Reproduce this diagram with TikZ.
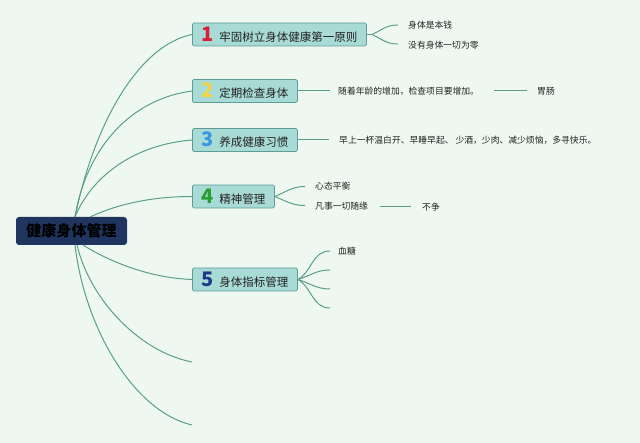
\documentclass[tikz,border=0pt]{standalone}
\usepackage{fontspec}
\setmainfont{Noto Sans CJK SC}
\definecolor{bg}{HTML}{EEF8F1}
\definecolor{ln}{HTML}{5B9E8A}
\definecolor{boxfill}{HTML}{A8DBD6}
\definecolor{boxdraw}{HTML}{5E9C96}
\definecolor{rootfill}{HTML}{1F3560}
\definecolor{numA}{HTML}{D8203A}
\definecolor{numB}{HTML}{F2D44A}
\definecolor{numC}{HTML}{3A98E0}
\definecolor{numD}{HTML}{2A9E2E}
\definecolor{numE}{HTML}{1A3A8A}
\definecolor{txt}{HTML}{222222}
\tikzset{
  conn/.style={draw=ln, line width=1pt},
  branchbox/.style={draw=boxdraw, fill=boxfill, rounded corners=1.5pt, line width=0.8pt,
    anchor=west, minimum height=23pt, inner xsep=9pt, inner ysep=0pt,
    font=\fontsize{11.5}{12}\selectfont, text=txt},
  leaf/.style={anchor=west, inner sep=0pt, font=\fontsize{8.8}{10}\selectfont, text=txt},
}
\newcommand{\bnum}[2]{\makebox[13pt]{\fontsize{20}{20}\selectfont\bfseries\color{#1}#2}\hspace{5pt}}
\begin{document}
\begin{tikzpicture}[x=1pt,y=-1pt]
\useasboundingbox[fill=bg] (0,0) rectangle (640,443);
% root
\node[draw=none, fill=rootfill, rounded corners=3pt, minimum width=111pt, minimum height=28pt,
  font=\fontsize{15}{16}\selectfont\bfseries, text=black] (root) at (71.5,231) {健康身体管理};
\coordinate (rt) at (75,217);
\coordinate (rt4) at (90,217);
\coordinate (rb) at (75,245);
\coordinate (rb1) at (77,245);
\coordinate (rb5) at (83,245);
% branch boxes
\node[branchbox] (b1) at (192,34.5) {\bnum{numA}{1}牢固树立身体健康第一原则};
\node[branchbox] (b2) at (192,91) {\bnum{numB}{2}定期检查身体};
\node[branchbox] (b3) at (192,140) {\bnum{numC}{3}养成健康习惯};
\node[branchbox] (b4) at (192,196.5) {\bnum{numD}{4}精神管理};
\node[branchbox] (b5) at (192,279.5) {\bnum{numE}{5}身体指标管理};
\coordinate (f1) at (192,362);
\coordinate (f2) at (192,425);
% root connectors
\draw[conn] (rt) .. controls (95,120) and (140,45) .. (b1.west);
\draw[conn] (rt) .. controls (85,155) and (125,100) .. (b2.west);
\draw[conn] (rt) .. controls (90,180) and (130,145) .. (b3.west);
\draw[conn] (rt4) .. controls (120,203) and (155,196.5) .. (b4.west);
\draw[conn] (rb5) .. controls (110,262) and (150,278) .. (b5.west);
\draw[conn] (rb1) .. controls (90,300) and (140,352) .. (f1);
\draw[conn] (rb) .. controls (85,330) and (135,412) .. (f2);
% branch 1 leaves
\node[leaf] (l11) at (408,25) {身体是本钱};
\node[leaf] (l12) at (408,45) {没有身体一切为零};
\coordinate (k11) at (398,25);
\coordinate (k12) at (398,44);
\coordinate (fk1) at (372,34.5);
\draw[conn] (b1.east) -- (fk1);
\draw[conn] (fk1) .. controls (382,30) and (386,25) .. (k11);
\draw[conn] (fk1) .. controls (382,39) and (386,44) .. (k12);
% branch 2 leaves
\node[leaf] (l21) at (338,91) {随着年龄的增加，检查项目要增加。};
\node[leaf] (l22) at (537,91) {胃肠};
\coordinate (k21) at (330,91);
\coordinate (k22a) at (494,91);
\coordinate (k22b) at (527,91);
\draw[conn] (b2.east) -- (k21);
\draw[conn] (k22a) -- (k22b);
% branch 3 leaves
\node[leaf] (l31) at (339,140) {早上一杯温白开、早睡早起、 少酒，少肉、减少烦恼，多寻快乐。};
\coordinate (k31) at (329,140);
\draw[conn] (b3.east) -- (k31);
% branch 4 leaves
\node[leaf] (l41) at (315,186.5) {心态平衡};
\node[leaf] (l42) at (315,206) {凡事一切随缘};
\node[leaf] (l43) at (422,207) {不争};
\coordinate (k41) at (305,186.5);
\coordinate (k42) at (305,205.5);
\coordinate (k43a) at (380,206.5);
\coordinate (k43b) at (411,206.5);
\draw[conn] (b4.east) .. controls (286,192) and (292,186.5) .. (k41);
\draw[conn] (b4.east) .. controls (286,201) and (292,205.5) .. (k42);
\draw[conn] (k43a) -- (k43b);
% branch 5 leaves
\node[leaf] (l51) at (338,251) {血糖};
\coordinate (k51) at (330,251);
\coordinate (k52) at (330,270);
\coordinate (k53) at (330,289);
\coordinate (k54) at (330,308);
\draw[conn] (b5.east) .. controls (312,272) and (312,251) .. (k51);
\draw[conn] (b5.east) .. controls (310,276) and (316,270) .. (k52);
\draw[conn] (b5.east) .. controls (310,283) and (316,289) .. (k53);
\draw[conn] (b5.east) .. controls (312,287) and (312,308) .. (k54);
\end{tikzpicture}
\end{document}
